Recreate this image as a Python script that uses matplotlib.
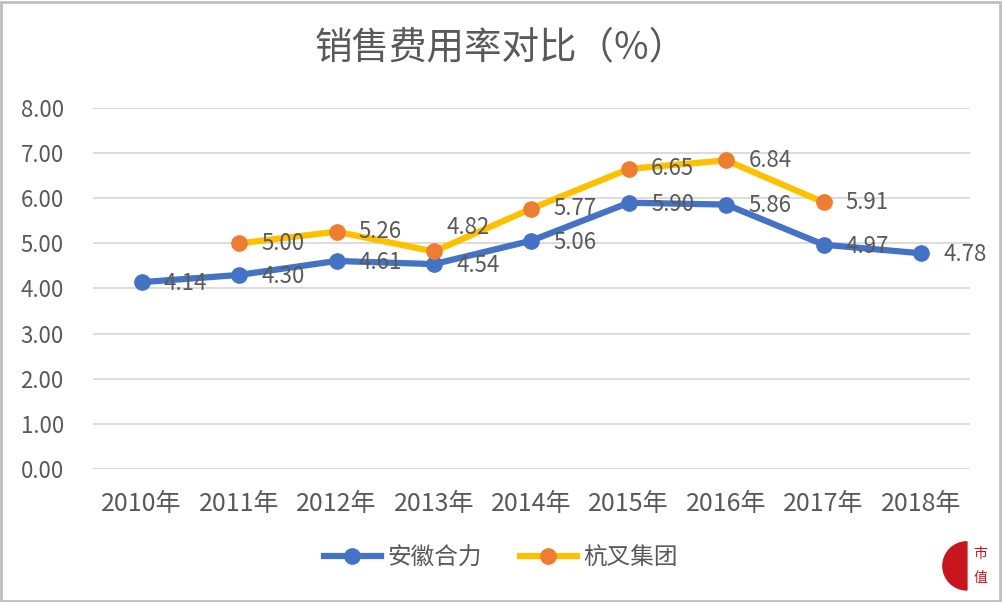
import matplotlib.pyplot as plt
from matplotlib.patches import Wedge, Rectangle

plt.rcParams['font.family'] = ['Noto Sans CJK SC', 'DejaVu Sans']

years = ['2010年', '2011年', '2012年', '2013年', '2014年', '2015年', '2016年', '2017年', '2018年']
heli = [4.14, 4.30, 4.61, 4.54, 5.06, 5.90, 5.86, 4.97, 4.78]
hangcha_idx = [1, 2, 3, 4, 5, 6, 7]
hangcha = [5.00, 5.26, 4.82, 5.77, 6.65, 6.84, 5.91]

txt = '#595959'
fig = plt.figure(figsize=(10.02, 6.02), dpi=100)
ax = fig.add_axes([0.0928, 0.221, 0.875, 0.5996])

x = list(range(len(years)))
ax.plot(x, heli, color='#4472C4', lw=4.5, marker='o', ms=11,
        mfc='#4472C4', mec='#4472C4', label='安徽合力', zorder=3)
ax.plot(hangcha_idx, hangcha, color='#FFC000', lw=4.5, marker='o', ms=11,
        mfc='#ED7D31', mec='#ED7D31', label='杭叉集团', zorder=3)

for i, v in zip(x, heli):
    ax.annotate(f'{v:.2f}', (i, v), xytext=(16, -1), textcoords='offset points',
                ha='left', va='center', fontsize=16, color=txt, zorder=4)
for i, v in zip(hangcha_idx, hangcha):
    # the 2013 label sits raised above its point, as in the original
    off = (9, 17) if i == 3 else (16, 0)
    ax.annotate(f'{v:.2f}', (i, v), xytext=off, textcoords='offset points',
                ha='left', va='center', fontsize=16, color=txt, zorder=4)

ax.set_xlim(-0.5, len(years) - 0.5)
ax.set_ylim(0, 8)
ax.set_yticks(range(9))
ax.set_yticklabels([f'{v:.2f}' for v in range(9)])
ax.set_xticks(x)
ax.set_xticklabels(years)
ax.tick_params(axis='both', length=0, labelsize=16, labelcolor=txt)
ax.tick_params(axis='y', pad=21)
ax.tick_params(axis='x', pad=16, labelsize=18)
ax.grid(axis='y', color='#d9d9d9', lw=1.3)
ax.set_axisbelow(True)
for s in ax.spines.values():
    s.set_visible(False)
ax.patch.set_alpha(0)

fig.text(0.5, 0.921, '销售费用率对比（%）', ha='center', va='center',
         fontsize=27, color=txt)

leg = fig.legend(loc='center', bbox_to_anchor=(0.5, 0.073), ncol=2, frameon=False,
                 fontsize=17, handlelength=2.4, columnspacing=1.6, handletextpad=0.3)
for t in leg.get_texts():
    t.set_color(txt)

# border
fig.patches.append(Rectangle((0.001, 0.002), 0.997, 0.995, transform=fig.transFigure,
                             fill=False, ec='#bfbfbf', lw=2))

# seal logo
logo = fig.add_axes([0.935, 0.01, 0.06, 0.1])
logo.set_xlim(0, 1)
logo.set_ylim(0, 1)
logo.axis('off')
logo.add_patch(Wedge((0.5, 0.5), 0.4, 90, 270, color='#c9151e'))
logo.text(0.72, 0.7, '市', color='#c9151e', fontsize=10, ha='center', va='center')
logo.text(0.72, 0.3, '值', color='#c9151e', fontsize=10, ha='center', va='center')

fig.savefig('out.png', dpi=100)
